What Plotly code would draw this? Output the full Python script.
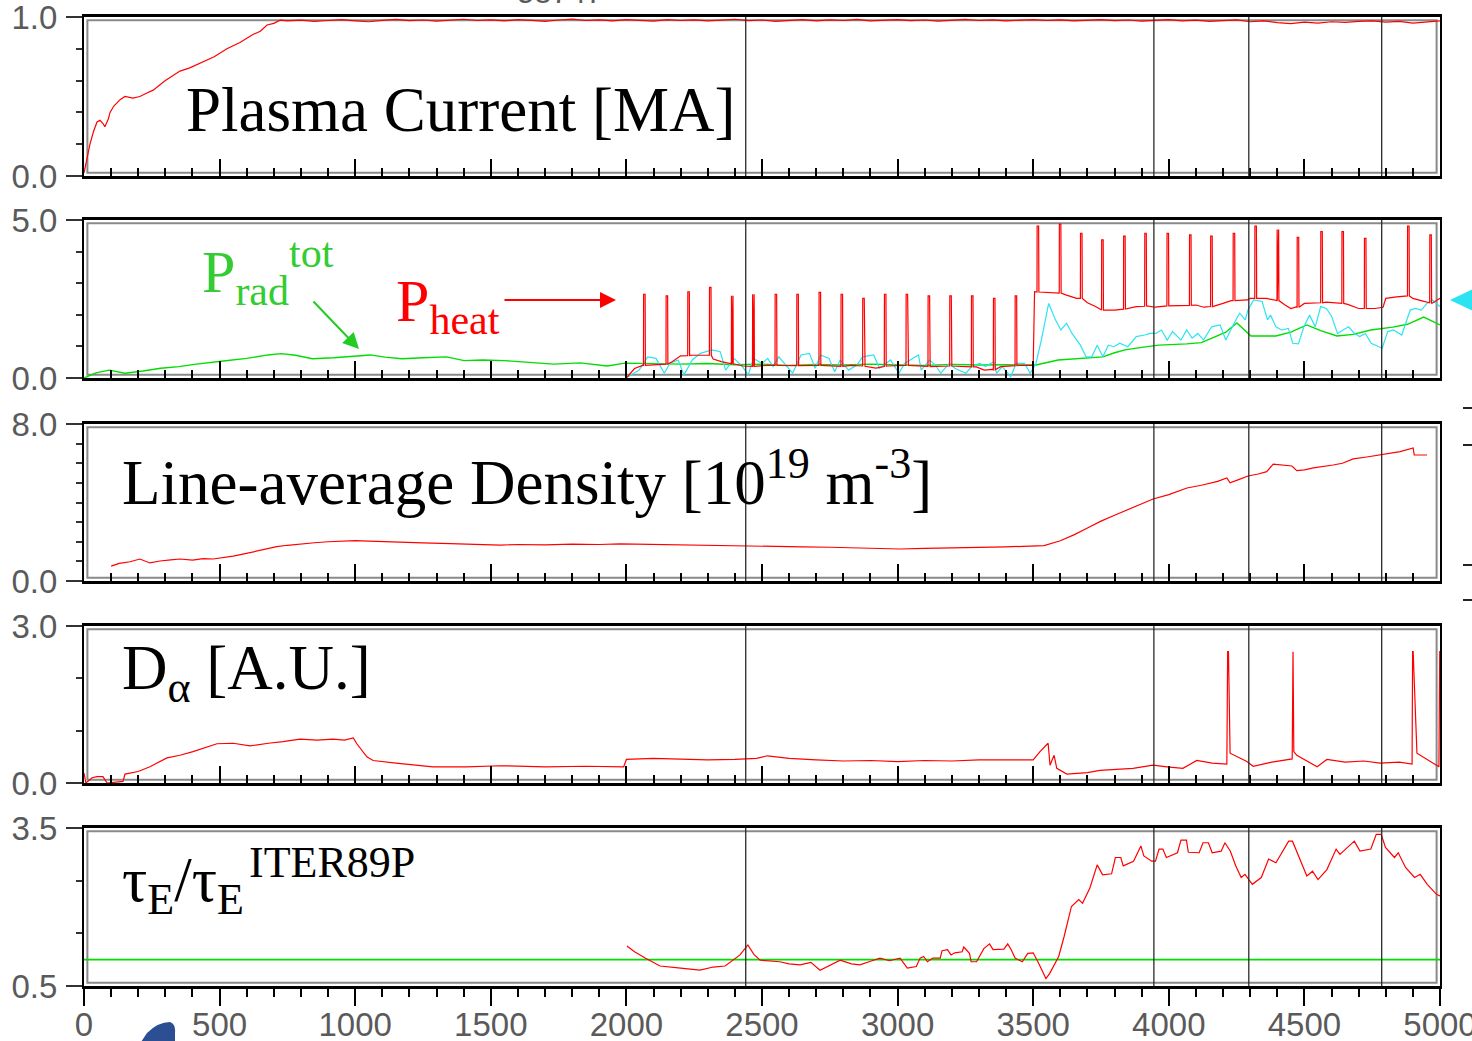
import plotly.graph_objects as go
from plotly.subplots import make_subplots

# ---------------- DATA ----------------
# Panel 1: plasma current [MA]
ip_rise_t = [0, 10, 22, 35, 48, 59, 70, 77, 90, 96, 110, 133, 151, 180, 206, 230, 255, 300, 354, 390,
             428, 480, 527, 575, 623, 650, 675, 700, 723]
ip_rise_v = [0.02, 0.10, 0.20, 0.28, 0.34, 0.35, 0.33, 0.31, 0.36, 0.40, 0.44, 0.48, 0.50, 0.49, 0.50,
             0.52, 0.54, 0.60, 0.66, 0.68, 0.71, 0.75, 0.80, 0.84, 0.89, 0.91, 0.95, 0.96, 0.98]
ip_flat_t = list(range(750, 5001, 50))
ip_flat_v = [0.975, 0.98, 0.972, 0.978, 0.983, 0.976, 0.97, 0.979, 0.985, 0.977, 0.981, 0.974, 0.98,
             0.986, 0.978, 0.982, 0.975, 0.984, 0.979, 0.973, 0.981, 0.987, 0.978, 0.982, 0.976, 0.983,
             0.979, 0.974, 0.984, 0.978, 0.982, 0.975, 0.98, 0.986, 0.977, 0.981, 0.973, 0.979, 0.984,
             0.976, 0.982, 0.978, 0.985, 0.975, 0.98, 0.983, 0.977, 0.981, 0.974, 0.979, 0.985, 0.978,
             0.982, 0.976, 0.98, 0.984,
             0.978, 0.982, 0.975, 0.98, 0.984, 0.977, 0.981, 0.974, 0.979, 0.983, 0.976, 0.98, 0.972,
             0.978, 0.982, 0.97, 0.976, 0.965, 0.958, 0.968, 0.962, 0.97, 0.966, 0.972, 0.975, 0.968,
             0.973, 0.962, 0.97, 0.975]

# Panel 2: radiated power (green)
prad_t = [0, 44, 93, 151, 217, 283, 350, 414, 514, 600, 678, 727, 780, 842, 920, 1007, 1056, 1110, 1172,
          1250, 1336, 1402, 1470, 1550, 1640, 1732, 1830, 1929, 1995, 2100, 2200, 2300, 2400, 2500,
          2600, 2700, 2800, 2900, 3000, 3100, 3200, 3300, 3400, 3510, 3592, 3650, 3700, 3757, 3800,
          3839, 3900, 3963, 4066, 4120, 4170, 4210, 4251, 4303, 4395, 4450, 4509, 4560, 4620, 4680,
          4745, 4826, 4880, 4940, 5000]
prad_v = [0.0, 0.16, 0.25, 0.15, 0.22, 0.31, 0.36, 0.44, 0.54, 0.62, 0.73, 0.77, 0.72, 0.61, 0.64, 0.70,
          0.73, 0.66, 0.61, 0.64, 0.67, 0.55, 0.57, 0.55, 0.50, 0.44, 0.48, 0.38, 0.47, 0.45, 0.44, 0.46,
          0.42, 0.44, 0.40, 0.43, 0.41, 0.44, 0.42, 0.40, 0.43, 0.41, 0.42, 0.41, 0.57, 0.60, 0.62, 0.67,
          0.80, 0.89, 0.97, 1.04, 1.08, 1.12, 1.30, 1.45, 1.74, 1.33, 1.33, 1.45, 1.68, 1.50, 1.33, 1.38,
          1.52, 1.61, 1.70, 1.93, 1.68]

# Panel 2: heating power (red) baseline + pulses
pheat_base_t = [2000, 2015, 2030, 2060, 2100, 2140, 2170, 2200, 2240, 2300, 2320, 2350, 2390, 2430, 2470,
                2520, 2600, 2700, 2780, 2830, 2880, 2920, 2960, 3040, 3120, 3200, 3290, 3320, 3350, 3380,
                3450, 3500, 3505, 3590, 3620, 3660, 3700, 3730, 3760, 3800, 3840, 3880, 3920, 3950, 4000,
                4050, 4100, 4130, 4170, 4200, 4230, 4290, 4300, 4360, 4400, 4430, 4450, 4470, 4500, 4580,
                4620, 4660, 4700, 4760, 4790, 4800, 4840, 4870, 4900, 4930, 4970, 5000]
pheat_base_v = [0.0, 0.15, 0.30, 0.40, 0.42, 0.44, 0.52, 0.70, 0.72, 0.72, 0.60, 0.52, 0.45, 0.38, 0.36,
                0.40, 0.38, 0.40, 0.36, 0.40, 0.37, 0.31, 0.38, 0.40, 0.36, 0.38, 0.35, 0.25, 0.27, 0.36,
                0.40, 0.40, 2.73, 2.70, 2.63, 2.52, 2.38, 2.26, 2.15, 2.15, 2.18, 2.26, 2.28, 2.24, 2.28,
                2.30, 2.31, 2.24, 2.28, 2.36, 2.45, 2.47, 2.52, 2.52, 2.45, 2.30, 2.20, 2.25, 2.36, 2.40,
                2.36, 2.33, 2.20, 2.20, 2.24, 2.52, 2.57, 2.60, 2.52, 2.45, 2.36, 2.52]
pheat_spike_t = [2063, 2146, 2226, 2306, 2387, 2465, 2548, 2628, 2710, 2791, 2871, 2951, 3031, 3112, 3192,
                 3272, 3353, 3433, 3514, 3596, 3674, 3752, 3833, 3911, 3993, 4076, 4154, 4237, 4317,
                 4399, 4473, 4560, 4638, 4721, 4880, 4962]
pheat_spike_base = [0.40, 0.44, 0.71, 0.72, 0.45, 0.37, 0.40, 0.39, 0.40, 0.37, 0.38, 0.36, 0.40, 0.37,
                    0.38, 0.35, 0.26, 0.39, 2.72, 2.69, 2.52, 2.15, 2.18, 2.27, 2.28, 2.30, 2.26, 2.45,
                    2.52, 2.45, 2.24, 2.38, 2.36, 2.20, 2.60, 2.38]
pheat_spike_peak = [2.65, 2.60, 2.73, 2.87, 2.60, 2.65, 2.65, 2.65, 2.71, 2.65, 2.52, 2.65, 2.65, 2.60,
                    2.60, 2.60, 2.52, 2.60, 4.81, 4.87, 4.58, 4.37, 4.49, 4.58, 4.58, 4.53, 4.49, 4.58,
                    4.81, 4.70, 4.45, 4.63, 4.63, 4.42, 4.81, 4.53]

# Panel 2: cyan trace
pcy_t = [2006, 2047, 2078, 2109, 2140, 2160, 2191, 2212, 2243, 2273, 2315, 2346, 2366, 2397, 2428, 2449,
         2469, 2500, 2521, 2541, 2562, 2583, 2613, 2644, 2675, 2696, 2716, 2747, 2768, 2788, 2819, 2850,
         2871, 2912, 2933, 2974, 3005, 3025, 3077, 3087, 3118, 3139, 3159, 3190, 3211, 3252, 3273, 3303,
         3324, 3355, 3365, 3386, 3417, 3437, 3468, 3489, 3510, 3530, 3557, 3582, 3602, 3623, 3643, 3674,
         3695, 3716, 3736, 3757, 3777, 3798, 3819, 3849, 3880, 3911, 3932, 3952, 3973, 3994, 4014, 4045,
         4066, 4086, 4107, 4128, 4158, 4189, 4210, 4241, 4261, 4282, 4292, 4313, 4344, 4364, 4375, 4395,
         4416, 4441, 4457, 4478, 4498, 4519, 4540, 4560, 4581, 4601, 4622, 4643, 4663, 4684, 4704, 4725,
         4746, 4787, 4807, 4828, 4859, 4890, 4910, 4931, 4952, 4972, 5000]
pcy_v = [0.04, 0.25, 0.67, 0.62, 0.15, 0.46, 0.57, 0.10, 0.57, 0.78, 0.89, 0.83, 0.25, 0.62, 0.36, 0.10,
         0.62, 0.46, 0.62, 0.36, 0.67, 0.46, 0.15, 0.73, 0.78, 0.31, 0.73, 0.62, 0.20, 0.57, 0.25, 0.41,
         0.67, 0.73, 0.31, 0.57, 0.15, 0.46, 0.73, 0.25, 0.57, 0.41, 0.15, 0.46, 0.31, 0.15, 0.36, 0.46,
         0.36, 0.52, 0.15, 0.36, 0.04, 0.46, 0.46, 0.15, 0.46, 1.20, 2.36, 1.84, 1.52, 1.73, 1.41, 1.04,
         0.67, 0.67, 1.04, 0.67, 1.04, 0.99, 1.10, 0.99, 1.31, 1.36, 1.41, 1.41, 1.52, 1.20, 1.47, 1.20,
         1.52, 1.26, 1.41, 1.20, 1.62, 1.68, 1.20, 1.73, 2.05, 1.84, 2.15, 2.47, 2.42, 1.84, 1.99, 1.62,
         1.52, 1.57, 1.10, 1.08, 1.62, 1.99, 1.62, 2.26, 2.20, 1.94, 1.41, 1.52, 1.62, 1.41, 1.31, 1.41,
         1.10, 0.94, 1.47, 1.52, 1.36, 2.15, 2.20, 2.15, 2.36, 2.47, 2.26]

# Panel 3: line-average density [1e19 m^-3]
ne_t = [100, 130, 170, 206, 243, 280, 320, 354, 400, 440, 476, 510, 550, 590, 623, 660, 711, 750, 796, 850,
        900, 950, 1000, 1050, 1100, 1165, 1250, 1350, 1450, 1534, 1600, 1700, 1800, 1900, 1976, 2050,
        2150, 2250, 2350, 2441, 2550, 2650, 2750, 2850, 2950, 3009, 3100, 3200, 3300, 3400, 3488, 3540,
        3600, 3650, 3700, 3750, 3800, 3850, 3900, 3942, 4000, 4067, 4120, 4180, 4214, 4226, 4260, 4292,
        4330, 4361, 4385, 4420, 4454, 4472, 4500, 4533, 4570, 4606, 4640, 4680, 4730, 4790, 4853, 4901,
        4905, 4952]
ne_v = [0.76, 0.90, 0.98, 1.12, 0.92, 1.02, 1.08, 1.12, 1.06, 1.14, 1.12, 1.18, 1.27, 1.38, 1.49, 1.60,
        1.75, 1.82, 1.89, 1.95, 2.00, 2.04, 2.06, 2.03, 2.00, 1.99, 1.94, 1.90, 1.85, 1.83, 1.86, 1.84,
        1.88, 1.86, 1.89, 1.87, 1.84, 1.82, 1.80, 1.78, 1.76, 1.74, 1.72, 1.70, 1.66, 1.63, 1.66, 1.68,
        1.72, 1.74, 1.78, 1.80, 2.05, 2.35, 2.70, 3.05, 3.35, 3.65, 3.95, 4.18, 4.40, 4.74, 4.88, 5.08,
        5.25, 5.00, 5.18, 5.35, 5.45, 5.57, 5.96, 5.92, 5.86, 5.62, 5.66, 5.76, 5.82, 5.91, 6.00, 6.22,
        6.32, 6.47, 6.59, 6.78, 6.42, 6.42]

# Panel 4: D-alpha [A.U.]
da_t = [0, 7, 30, 48, 70, 85, 144, 151, 200, 243, 306, 354, 402, 450, 490, 550, 612, 680, 734, 796, 860,
        918, 960, 993, 1006, 1043, 1066, 1150, 1228, 1287, 1411, 1534, 1700, 1850, 1990, 2000, 2100, 2200,
        2300, 2400, 2480, 2520, 2600, 2700, 2800, 2900, 3000, 3100, 3200, 3300, 3378, 3500, 3525, 3555,
        3562, 3577, 3587, 3624, 3700, 3746, 3868, 3942, 3993, 4052, 4103, 4160, 4214, 4217, 4220, 4226,
        4288, 4311, 4380, 4436, 4455, 4458, 4461, 4472, 4547, 4583, 4650, 4720, 4779, 4850, 4897, 4899,
        4901, 4915, 4974, 4996, 4999, 5000]
da_v = [0.19, 0.0, 0.10, 0.12, 0.12, 0.0, 0.03, 0.17, 0.22, 0.31, 0.48, 0.53, 0.60, 0.68, 0.75, 0.76, 0.71,
        0.76, 0.79, 0.84, 0.82, 0.84, 0.82, 0.86, 0.75, 0.50, 0.43, 0.38, 0.34, 0.31, 0.31, 0.33, 0.31,
        0.32, 0.31, 0.45, 0.47, 0.45, 0.44, 0.45, 0.47, 0.52, 0.47, 0.44, 0.42, 0.43, 0.41, 0.43, 0.42,
        0.44, 0.44, 0.44, 0.60, 0.76, 0.34, 0.53, 0.28, 0.17, 0.20, 0.24, 0.28, 0.34, 0.31, 0.28, 0.43,
        0.38, 0.36, 2.51, 2.51, 0.57, 0.41, 0.32, 0.40, 0.44, 0.46, 2.51, 0.60, 0.53, 0.31, 0.45, 0.40,
        0.42, 0.38, 0.40, 0.36, 2.51, 2.51, 0.57, 0.38, 0.31, 2.51, 2.51]

# Panel 5: confinement enhancement tau_E / tau_E^ITER89P
tau_t = [2002, 2030, 2069, 2100, 2124, 2200, 2271, 2320, 2364, 2419, 2448, 2470, 2493, 2566, 2600, 2640,
         2680, 2714, 2750, 2788, 2830, 2861, 2900, 2935, 2970, 3009, 3036, 3069, 3083, 3096, 3110, 3130,
         3157, 3164, 3184, 3197, 3211, 3238, 3244, 3265, 3271, 3291, 3318, 3339, 3352, 3392, 3406, 3419,
         3433, 3460, 3480, 3500, 3520, 3547, 3561, 3594, 3614, 3641, 3668, 3682, 3709, 3736, 3756, 3789,
         3803, 3823, 3832, 3870, 3897, 3908, 3937, 3951, 3964, 3978, 3991, 4032, 4045, 4065, 4072, 4112,
         4126, 4146, 4160, 4193, 4207, 4227, 4247, 4267, 4281, 4308, 4341, 4368, 4395, 4442, 4456, 4509,
         4530, 4550, 4583, 4617, 4631, 4644, 4684, 4705, 4745, 4765, 4783, 4799, 4832, 4846, 4873, 4906,
         4927, 4953, 4987, 5000]
tau_v = [1.26, 1.15, 1.03, 0.95, 0.88, 0.84, 0.80, 0.86, 0.88, 1.09, 1.28, 1.10, 0.99, 0.96, 0.92, 0.90,
         0.95, 0.80, 0.90, 0.99, 0.92, 0.90, 0.97, 1.03, 0.98, 1.03, 0.84, 0.87, 1.03, 1.06, 0.96, 1.03,
         1.03, 1.17, 1.19, 1.09, 1.13, 1.15, 1.24, 1.12, 0.96, 0.96, 1.21, 1.30, 1.19, 1.20, 1.30, 1.19,
         1.03, 0.96, 1.12, 1.13, 0.93, 0.64, 0.74, 1.06, 1.44, 2.01, 2.14, 2.07, 2.36, 2.80, 2.61, 2.63,
         2.94, 2.94, 2.78, 2.87, 3.16, 2.97, 2.87, 2.87, 3.10, 3.10, 2.94, 3.03, 3.27, 3.27, 3.04, 3.03,
         3.22, 3.22, 3.03, 3.06, 3.22, 3.06, 2.78, 2.56, 2.62, 2.43, 2.56, 2.91, 2.84, 3.25, 3.25, 2.59,
         2.68, 2.52, 2.71, 3.10, 3.00, 3.06, 3.25, 3.06, 3.10, 3.38, 3.38, 3.13, 2.94, 3.03, 2.75, 2.56,
         2.62, 2.43, 2.24, 2.21]
tau_ref_t = [0, 5000]
tau_ref_v = [1.0, 1.0]

# event markers (time) and axis settings
event_times = [2440, 3945, 4295, 4785]
y_ranges = [(0.0, 1.0), (0.0, 5.0), (0.0, 8.0), (0.0, 3.0), (0.5, 3.5)]
y_minor_step = [0.2, 1.0, 1.0, 1.0, 1.0]
y_ticktext = [("0.0", "1.0"), ("0.0", "5.0"), ("0.0", "8.0"), ("0.0", "3.0"), ("0.5", "3.5")]
shot_label = "58747"

# ---------------- LAYOUT HELPERS ----------------
W, H = 1472, 1041
L, R = 84, 32
def px(x):
    return (x - L) / (W - L - R)
def py(y):
    return 1 - y / H

panel_px = [(17, 176), (220, 378), (424, 581), (626, 783), (828, 986)]

RED = "#ff0000"
GREEN = "#00dd00"
CYAN = "#2ce3f2"
TXT_GREEN = "#33cc33"
TICKFONT = dict(family="Liberation Sans, Arial, sans-serif", size=33, color="#5a5a5a")
SERIF = "Liberation Serif, Times New Roman, serif"

fig = make_subplots(rows=5, cols=1)

# build heating power series
pts = list(zip(pheat_base_t, pheat_base_v))
for t, b, p in zip(pheat_spike_t, pheat_spike_base, pheat_spike_peak):
    pts += [(t, b), (t + 0.5, p), (t + 6, p), (t + 7, b)]
pts.sort(key=lambda a: a[0])
pheat_t = [a[0] for a in pts]
pheat_v = [a[1] for a in pts]

def line(x, y, color, row, w=1.2):
    fig.add_trace(go.Scatter(x=x, y=y, mode="lines", line=dict(color=color, width=w),
                             showlegend=False, hoverinfo="skip"), row=row, col=1)

line(ip_rise_t + ip_flat_t, ip_rise_v + ip_flat_v, RED, 1)
line(prad_t, prad_v, GREEN, 2, 1.4)
line(pcy_t, pcy_v, CYAN, 2)
line(pheat_t, pheat_v, RED, 2)
line(ne_t, ne_v, RED, 3)
line(da_t, da_v, RED, 4)
line(tau_ref_t, tau_ref_v, GREEN, 5, 1.6)
line(tau_t, tau_v, RED, 5)

shapes = []
for i, (top, bot) in enumerate(panel_px, 1):
    fig.layout[f"yaxis{i}"].domain = [py(bot), py(top)]
    fig.layout[f"xaxis{i}"].domain = [0, 1]
    last = (i == 5)
    tick_dir = "outside" if last else "inside"
    fig.layout[f"xaxis{i}"].update(
        range=[0, 5000], showline=True, linecolor="black", linewidth=3, mirror=True,
        ticks=tick_dir, tick0=0, dtick=500, ticklen=17, tickwidth=2, tickcolor="black",
        minor=dict(ticks=tick_dir, tick0=0, dtick=100, ticklen=8, tickwidth=2, tickcolor="black"),
        showgrid=False, zeroline=False, showticklabels=last, tickfont=TICKFONT,
        ticklabelstandoff=-10, ticklabeloverflow="allow", automargin=False)
    lo, hi = y_ranges[i - 1]
    fig.layout[f"yaxis{i}"].update(
        range=[lo, hi], showline=True, linecolor="black", linewidth=2, mirror=True,
        tickmode="array", tickvals=[lo, hi], ticktext=list(y_ticktext[i - 1]),
        ticks="outside", ticklen=16, tickwidth=1.5, tickcolor="#333",
        minor=dict(ticks="outside", tick0=lo, dtick=y_minor_step[i - 1], ticklen=6, tickwidth=1.5,
                   tickcolor="#333"),
        showgrid=False, zeroline=False, tickfont=TICKFONT, automargin=False,
        ticklabeloverflow="allow", ticklabelstandoff=2)
    xr = "x" if i == 1 else f"x{i}"
    yr = "y" if i == 1 else f"y{i}"
    shapes.append(dict(type="rect", xref=f"{xr} domain", yref=f"{yr} domain",
                       x0=0.0025, x1=0.9975, y0=0.02, y1=0.98,
                       line=dict(color="#8a8a8a", width=2), layer="below"))
    for et in event_times:
        shapes.append(dict(type="line", xref=xr, yref=f"{yr} domain", x0=et, x1=et, y0=0, y1=1,
                           line=dict(color="#2a2a2a", width=1.3), layer="above"))

# cyan arrow head at right edge
shapes.append(dict(type="path", xref="paper", yref="paper",
                   path=f"M {px(1450)},{py(300)} L {px(1473)},{py(289)} L {px(1473)},{py(311)} Z",
                   fillcolor=CYAN, line=dict(width=0)))
# blue blob near bottom
shapes.append(dict(type="path", xref="paper", yref="paper",
                   path=(f"M {px(141)},{py(1042)} L {px(147)},{py(1033)} Q {px(158)},{py(1022)} "
                         f"{px(170)},{py(1022)} Q {px(176)},{py(1024)} {px(175)},{py(1033)} "
                         f"L {px(175)},{py(1042)} Z"),
                   fillcolor="#2b4f92", line=dict(width=0)))
for yy in [408, 445, 565, 600]:
    shapes.append(dict(type="line", xref="paper", yref="paper", x0=px(1463), x1=px(1472),
                       y0=py(yy), y1=py(yy), line=dict(color="#222", width=2)))

ann = []
def text(x, y, s, size, color="black", xanchor="left", yanchor="middle", family=SERIF):
    ann.append(dict(x=px(x), y=py(y), xref="paper", yref="paper", text=s, showarrow=False,
                    xanchor=xanchor, yanchor=yanchor, font=dict(family=family, size=size, color=color)))

text(184, 110, "Plasma Current [MA]", 63)
text(120, 478, "Line-average Density [10<sup>19</sup> m<sup>-3</sup>]", 63)
text(120, 672, "D<sub>α</sub> [A.U.]", 63)
text(120, 884, "τ<sub>E</sub>/τ<sub>E</sub>", 63)
text(247, 862, "ITER89P", 44)
text(200, 272, "P<sub>rad</sub><sup>tot</sup>", 60, TXT_GREEN)
text(394, 305, "P<sub>heat</sub>", 60, RED)
text(560, 12, shot_label, 31, "#5a5a5a", xanchor="center", yanchor="bottom",
     family="Liberation Sans, Arial, sans-serif")

# arrows (tail offsets in pixels)
ann.append(dict(x=px(616), y=py(300), xref="paper", yref="paper", ax=-113, ay=0,
                text="", showarrow=True, arrowhead=2, arrowsize=1.6, arrowwidth=2, arrowcolor=RED))
ann.append(dict(x=px(359), y=py(349), xref="paper", yref="paper", ax=-47, ay=-49,
                text="", showarrow=True, arrowhead=2, arrowsize=1.6, arrowwidth=2, arrowcolor="#22cc22"))

fig.update_layout(width=W, height=H, margin=dict(l=L, r=R, t=0, b=0, autoexpand=False),
                  plot_bgcolor="white", paper_bgcolor="white", shapes=shapes, annotations=ann,
                  showlegend=False)

fig.write_html("out.html")
